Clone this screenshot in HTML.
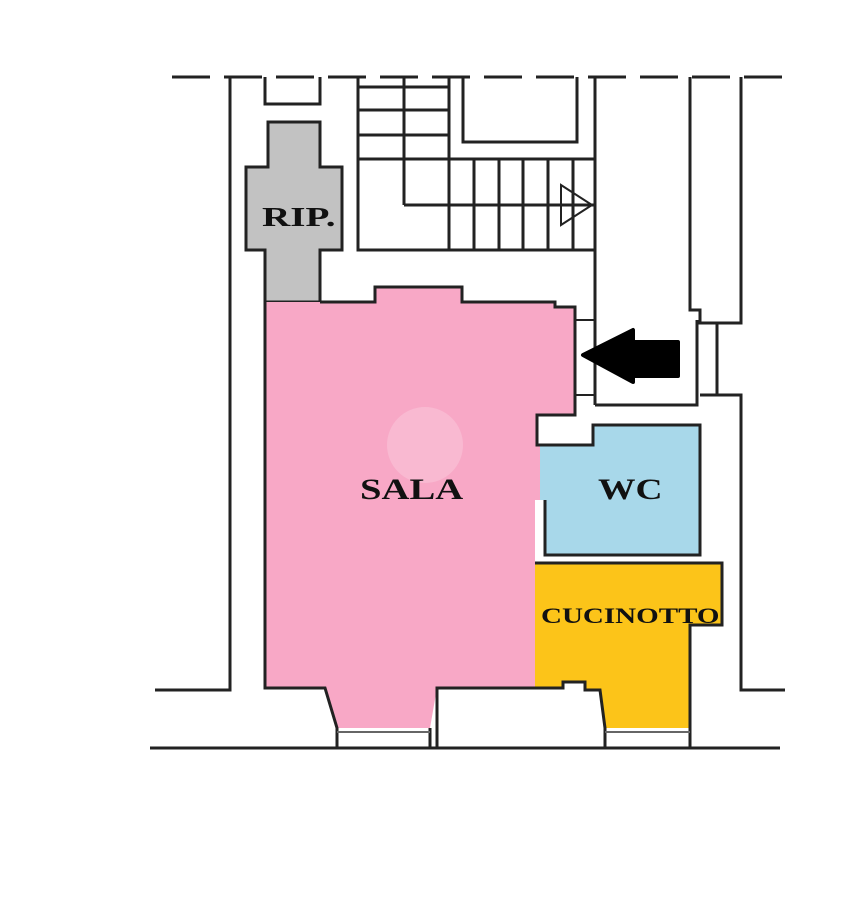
<!DOCTYPE html>
<html><head><meta charset="utf-8"><style>body{margin:0;background:#fff}svg{display:block}</style></head><body>
<svg width="850" height="900" viewBox="0 0 850 900" xmlns="http://www.w3.org/2000/svg" font-family="Liberation Serif, serif" font-weight="bold">
<rect width="850" height="900" fill="#fff"/>
<g stroke="#222" stroke-width="3" fill="none">
<line x1="172" y1="77" x2="782" y2="77" stroke-dasharray="38,14"/>
</g>
<polygon points="268,122 320,122 320,167 342,167 342,250 320,250 320,302 265,302 265,250 246,250 246,167 268,167" fill="#c2c2c2" stroke="#222" stroke-width="3"/>
<polygon points="265,302 320,302 375,302 375,287 462,287 462,302 555,302 555,307 575,307 575,415 537,415 537,445 540,445 540,500 535,500 535,688 437,688 430,728 337,728 325,688 265,688" fill="#f8a8c6"/>
<polygon points="593,425 700,425 700,555 545,555 545,500 540,500 540,445 593,445" fill="#a8d8ea"/>
<polygon points="535,563 722,563 722,625 690,625 690,728 605,728 600,690 585,690 585,682 563,682 563,688 535,688" fill="#fcc419"/>
<g stroke="#222" stroke-width="3" fill="none" stroke-linejoin="miter">
<polyline points="230,77 230,690 155,690"/>
<polyline points="265,77 265,104 320,104 320,77"/>
<polyline points="265,302 265,688 325,688 337,728 337,747"/>
<polyline points="320,302 375,302 375,287 462,287 462,302 555,302 555,307 575,307 575,415 537,415 537,445 593,445 593,425 700,425 700,555 545,555 545,500"/>
<polyline points="437,747 437,688 563,688 563,682 585,682 585,690 600,690 605,728 605,747"/>
<polyline points="535,563 722,563 722,625 690,625 690,747"/>
<line x1="430" y1="728" x2="430" y2="747"/>
<line x1="337" y1="732" x2="430" y2="732" stroke-width="2" stroke="#666"/>
<line x1="605" y1="732" x2="690" y2="732" stroke-width="2" stroke="#666"/>
<line x1="150" y1="748" x2="780" y2="748"/>
<polyline points="358,77 358,250 594,250"/>
<polyline points="463,77 463,142 577,142 577,77"/>
<line x1="404" y1="77" x2="404" y2="205"/>
<line x1="449" y1="77" x2="449" y2="250"/>
<line x1="358" y1="87" x2="449" y2="87"/>
<line x1="358" y1="110" x2="449" y2="110"/>
<line x1="358" y1="135" x2="449" y2="135"/>
<line x1="358" y1="159" x2="594" y2="159"/>
<line x1="404" y1="205" x2="594" y2="205"/>
<line x1="474" y1="159" x2="474" y2="250"/>
<line x1="499" y1="159" x2="499" y2="250"/>
<line x1="523" y1="159" x2="523" y2="250"/>
<line x1="548" y1="159" x2="548" y2="250"/>
<line x1="573" y1="159" x2="573" y2="250"/>
<polygon points="561,185 592,205 561,225" stroke-width="2"/>
<line x1="595" y1="77" x2="595" y2="405"/>
<polyline points="575,320 595,320" stroke-width="2"/>
<polyline points="575,395 595,395" stroke-width="2"/>
<polyline points="595,405 697,405 697,320"/>
<polyline points="690,77 690,310 700,310 700,323 741,323 741,77"/>
<line x1="717" y1="323" x2="717" y2="395"/>
<polyline points="700,395 741,395 741,690 785,690"/>
</g>
<polygon points="583,355 633,330 633,342 678,342 678,376 633,376 633,382" fill="#000" stroke="#000" stroke-width="4" stroke-linejoin="round"/>
<circle cx="425" cy="445" r="38" fill="#fff" opacity="0.2"/>
<g fill="#111">
<text transform="translate(360,499) scale(1.29,1)" font-size="30">SALA</text>
<text transform="translate(598,499) scale(1.25,1)" font-size="30">WC</text>
<text transform="translate(262,226) scale(1.45,1)" font-size="27">RIP.</text>
<text transform="translate(541,623) scale(1.32,1)" font-size="22">CUCINOTTO</text>
</g>
</svg>
</body></html>
